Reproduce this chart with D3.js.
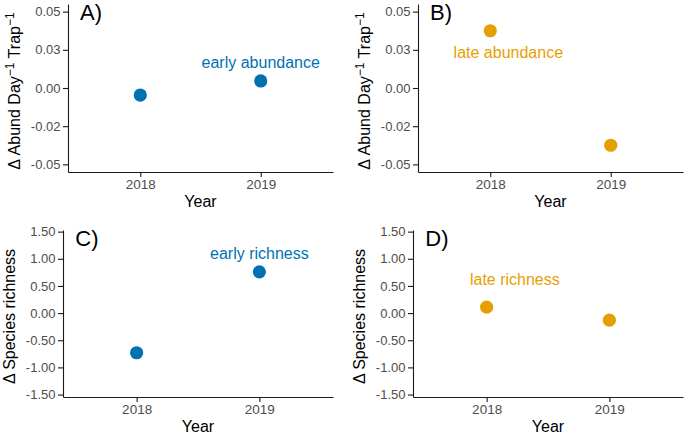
<!DOCTYPE html>
<html><head><meta charset="utf-8">
<script src="https://cdn.jsdelivr.net/npm/d3@7"></script>
<style>body{margin:0;background:#fff}svg{display:block}text{font-family:"Liberation Sans",Arial,sans-serif}</style>
</head><body>
<svg id="c" width="685" height="434"></svg>
<script>
const years = ["2018", "2019"];
const earlyAbund = [-0.0046, 0.0046];
const lateAbund = [0.0375, -0.0375];
const earlyRich = [-0.73, 0.76];
const lateRich = [0.11, -0.13];
const abundTicks = [-0.05, -0.025, 0, 0.025, 0.05];
const abundTickLabels = ["-0.05", "-0.02", "0.00", "0.03", "0.05"];
const richTicks = [-1.5, -1, -0.5, 0, 0.5, 1, 1.5];
const richTickLabels = ["-1.50", "-1.00", "-0.50", "0.00", "0.50", "1.00", "1.50"];
const panelLabels = ["A)", "B)", "C)", "D)"];
const annotTexts = ["early abundance", "late abundance", "early richness", "late richness"];
const annotX = [2, 1.15, 2, 1.23];
const annotY = [0.013, 0.0195, 0.99, 0.52];
const blue = "#0072B2", orange = "#E69F00";

const svg = d3.select("#c");
const panels = [
  {x0:68, x1:333, y0:4, y1:172, vals:earlyAbund, col:blue, dom:[-0.055,0.055], ticks:abundTicks, tl:abundTickLabels, ytitle:"abund", tx:20},
  {x0:418, x1:683, y0:4, y1:172, vals:lateAbund, col:orange, dom:[-0.055,0.055], ticks:abundTicks, tl:abundTickLabels, ytitle:"abund", tx:370},
  {x0:63, x1:333, y0:230, y1:397, vals:earlyRich, col:blue, dom:[-1.545,1.53], ticks:richTicks, tl:richTickLabels, ytitle:"rich", tx:15},
  {x0:413, x1:683, y0:230, y1:397, vals:lateRich, col:orange, dom:[-1.545,1.53], ticks:richTicks, tl:richTickLabels, ytitle:"rich", tx:365}
];
const FF = '"Liberation Sans",Arial,sans-serif';

panels.forEach((p, i) => {
  const g = svg.append("g");
  const x = d3.scaleLinear().domain([0.4, 2.6]).range([p.x0, p.x1]);
  const y = d3.scaleLinear().domain(p.dom).range([p.y1, p.y0]);
  const ya = g.append("g").attr("transform", `translate(${p.x0},0)`)
    .call(d3.axisLeft(y).tickValues(p.ticks).tickFormat((d, k) => p.tl[k]).tickSize(5).tickPadding(2.5).tickSizeOuter(0));
  ya.select(".domain").attr("stroke", "#1a1a1a").attr("stroke-width", 1.1);
  ya.selectAll(".tick line").attr("stroke", "#1a1a1a").attr("stroke-width", 1.1);
  ya.selectAll(".tick text").attr("fill", "#4d4d4d").style("font-size", "13px").style("font-family", FF);
  const xa = g.append("g").attr("transform", `translate(0,${p.y1})`)
    .call(d3.axisBottom(x).tickValues([1, 2]).tickFormat((d, k) => years[k]).tickSize(5).tickPadding(2.5).tickSizeOuter(0));
  xa.select(".domain").attr("stroke", "#1a1a1a").attr("stroke-width", 1.1);
  xa.selectAll(".tick line").attr("stroke", "#1a1a1a").attr("stroke-width", 1.1);
  xa.selectAll(".tick text").attr("fill", "#4d4d4d").style("font-size", "13.5px").style("font-family", FF);
  g.selectAll("circle").data(p.vals).join("circle")
    .attr("cx", (d, k) => x(k + 1)).attr("cy", d => y(d)).attr("r", 6.6).attr("fill", p.col);
  g.append("text").attr("x", x(annotX[i])).attr("y", y(annotY[i])).attr("text-anchor", "middle")
    .attr("fill", p.col).style("font-size", "16px").text(annotTexts[i]);
  g.append("text").attr("x", x(0.5)).attr("y", p.y0 + 15.5).style("font-size", "22px").attr("fill", "#000").text(panelLabels[i]);
  g.append("text").attr("x", (p.x0 + p.x1) / 2).attr("y", p.y1 + 35).attr("text-anchor", "middle")
    .style("font-size", "16px").attr("fill", "#000").text("Year");
  const yt = g.append("text").attr("transform", `translate(${p.tx},${(p.y0 + p.y1) / 2 + 3}) rotate(-90)`)
    .attr("text-anchor", "middle").style("font-size", "16px").attr("fill", "#000");
  if (p.ytitle === "abund") {
    yt.append("tspan").text("\u0394 Abund Day");
    yt.append("tspan").attr("dy", -6).style("font-size", "12px").text("\u22121");
    yt.append("tspan").attr("dy", 6).text(" Trap");
    yt.append("tspan").attr("dy", -6).style("font-size", "12px").text("\u22121");
  } else {
    yt.text("\u0394 Species richness");
  }
});
</script>
</body></html>
